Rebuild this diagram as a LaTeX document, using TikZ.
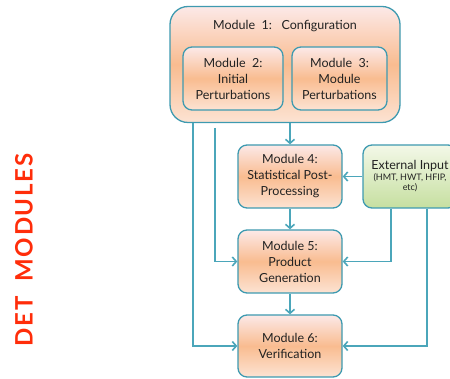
\documentclass[tikz,border=0pt]{standalone}
\usepackage{fontspec}
\setmainfont{Lato}
\newfontfamily\redfont[LetterSpace=7]{Lato Bold}
\usetikzlibrary{arrows.meta}
\definecolor{bordc}{HTML}{3E9AB0}
\definecolor{linec}{HTML}{4BA6BA}
\definecolor{pinkt}{HTML}{FCE9E8}
\definecolor{orangem}{HTML}{F9BC90}
\definecolor{lightb}{HTML}{FCE3D3}
\definecolor{redt}{HTML}{FF2D0A}
\definecolor{greent}{HTML}{F3F8E8}
\definecolor{greenb}{HTML}{C6DFA0}
\definecolor{textc}{HTML}{222222}
\tikzset{
  modbox/.style={draw=bordc, line width=1.3pt, rounded corners=9pt,
    top color=pinkt, bottom color=lightb, middle color=orangem,
    align=center, text=textc, font=\fontsize{12.5}{16}\selectfont,
    inner sep=0pt},
  extbox/.style={draw=bordc, line width=1.3pt, rounded corners=9pt,
    top color=greent, bottom color=greenb,
    align=center, text=textc, inner sep=0pt},
  arr/.style={draw=linec, line width=1.6pt, -{Straight Barb[length=4pt,width=9pt,line width=1.6pt]}},
  ln/.style={draw=linec, line width=1.6pt}
}
\begin{document}
\begin{tikzpicture}[x=1pt,y=-1pt]
\useasboundingbox (0,0) rectangle (450,379);
\clip (0,0) rectangle (450,379);
% module 1 outer
\node[modbox, rounded corners=18pt, minimum width=230pt, minimum height=116pt] (m1) at (285,64.5) {};
\node[text=textc, font=\fontsize{12.5}{16}\selectfont] (m1t) at (285,26) {Module\ \ 1:\ \ \ Configuration};
\node[modbox, minimum width=100pt, minimum height=63pt] (m2) at (233,78.5) {Module\ \ 2:\\Initial\\Perturbations};
\node[modbox, minimum width=95pt, minimum height=63pt] (m3) at (339.5,78.5) {Module\ \ 3:\\Module\\Perturbations};
\node[modbox, minimum width=104pt, minimum height=63pt] (m4) at (290,176.5) {Module 4:\\Statistical Post-\\Processing};
\node[modbox, minimum width=104pt, minimum height=63pt] (m5) at (290,261.5) {Module 5:\\Product\\Generation};
\node[modbox, minimum width=104pt, minimum height=62pt] (m6) at (290,346) {Module 6:\\Verification};
\node[extbox, minimum width=94pt, minimum height=63pt] (ext) at (410,176.5) {{\fontsize{12.5}{15}\selectfont External Input}\\[-1pt]{\fontsize{9}{10}\selectfont (HMT, HWT, HFIP,}\\[-2pt]{\fontsize{9}{10}\selectfont etc)}};
% coordinates
\coordinate (cL) at (193,0);
\coordinate (c2) at (215,128);
\coordinate (cR1) at (391,0);
\coordinate (cR2) at (427,0);
% connectors
\draw[arr] (m1.south -| m4.north) -- (m4.north);
\draw[arr] (m4.south) -- (m5.north);
\draw[arr] (m5.south) -- (m6.north);
\draw[arr] (ext.west) -- (m4.east);
\draw[arr] (m1.south -| cL) |- (m6.west);
\draw[arr] (c2) |- (m5.west);
\draw[arr] (ext.south -| cR1) |- (m5.east);
\draw[arr] (ext.south -| cR2) |- (m6.east);
% side label
\node[rotate=90, text=redt, font=\redfont\fontsize{24}{24}\selectfont] (lbl) at (24,250) {DET\ \ MODULES};
\end{tikzpicture}
\end{document}
